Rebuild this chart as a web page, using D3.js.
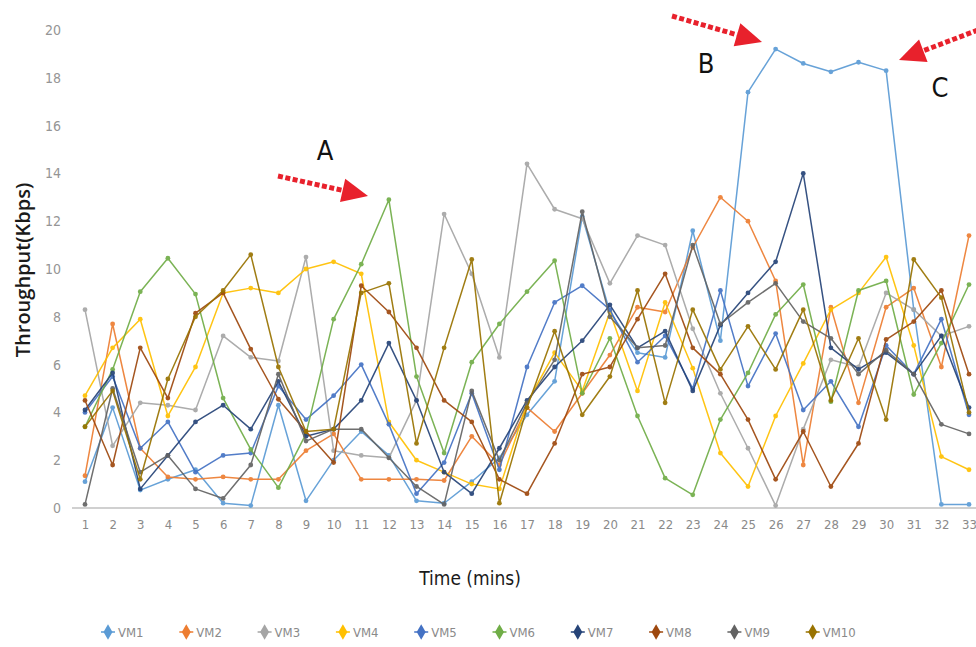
<!DOCTYPE html>
<html><head><meta charset="utf-8">
<script src="https://cdn.jsdelivr.net/npm/d3@7"></script>
<style>html,body{margin:0;padding:0;background:#fff;}svg{display:block;}</style>
</head><body><svg id="c" width="976" height="647"></svg>
<script>
const times = d3.range(1, 34);
const seriesNames = ["VM1","VM2","VM3","VM4","VM5","VM6","VM7","VM8","VM9","VM10"];
const seriesColors = ["#5B9BD5","#ED7D31","#A5A5A5","#FFC000","#4472C4","#70AD47","#264478","#9E480E","#636363","#997300"];
const yTicks = [0,2,4,6,8,10,12,14,16,18,20];

const vm1  = [1.1,4.2,0.75,1.2,1.6,0.2,0.1,4.3,0.3,2.0,3.2,2.2,0.3,0.2,1.1,2.1,3.9,5.3,12.2,8.2,6.5,6.3,11.6,7.0,17.4,19.2,18.6,18.25,18.65,18.3,8.3,0.15,0.15];
const vm2  = [1.35,7.7,2.5,1.3,1.2,1.3,1.2,1.2,2.4,3.1,1.2,1.2,1.2,1.15,3.0,1.8,4.2,3.2,4.8,6.4,8.4,8.2,10.9,13.0,12.0,9.5,1.8,8.4,4.4,8.4,9.2,5.9,11.4];
const vm3  = [8.3,2.6,4.4,4.3,4.1,7.2,6.3,6.15,10.5,2.4,2.2,2.1,4.5,12.3,9.8,6.3,14.4,12.5,12.1,9.4,11.4,11.0,7.5,4.8,2.5,0.1,3.3,6.2,5.9,9.0,8.3,7.2,7.6];
const vm4  = [4.7,6.7,7.9,3.85,5.9,9.0,9.2,9.0,10.0,10.3,9.8,3.6,2.0,1.5,1.0,0.8,4.4,6.5,4.9,8.2,4.9,8.6,5.85,2.3,0.9,3.85,6.05,8.3,9.0,10.5,6.8,2.15,1.6];
const vm5  = [4.0,5.5,2.5,3.6,1.5,2.2,2.3,5.1,3.7,4.7,6.0,3.5,0.6,1.9,4.8,1.6,5.9,8.6,9.3,8.3,6.1,7.2,5.0,9.1,5.1,7.3,4.1,5.3,3.4,6.8,5.6,7.9,3.9];
const vm6  = [3.4,5.8,9.05,10.45,8.95,4.6,2.45,0.85,3.1,7.9,10.2,12.9,5.5,2.3,6.1,7.7,9.05,10.35,4.8,7.1,3.85,1.25,0.55,3.7,5.65,8.1,9.35,4.45,9.1,9.5,4.75,6.9,9.35];
const vm7  = [4.1,5.65,0.8,2.2,3.6,4.3,3.3,5.3,3.0,3.3,4.5,6.9,4.5,1.5,0.6,2.5,4.5,5.9,7.0,8.5,6.7,7.4,4.9,7.65,9.0,10.3,14.0,6.7,5.8,6.5,5.6,7.2,4.2];
const vm8  = [4.5,1.8,6.7,4.6,8.15,9.0,6.65,4.55,3.2,1.9,9.3,8.2,6.7,4.5,3.6,1.2,0.6,2.7,5.6,5.9,7.9,9.8,6.7,5.6,3.7,1.2,3.2,0.9,2.7,7.05,7.8,9.1,5.6];
const vm9  = [0.15,5.0,1.5,2.2,0.8,0.4,1.8,5.6,2.8,3.3,3.3,2.1,0.9,0.15,4.9,2.0,4.4,6.2,12.4,8.0,6.7,6.8,11.0,7.7,8.6,9.4,7.8,7.1,5.6,6.6,5.6,3.5,3.1];
const vm10 = [3.4,4.9,1.2,5.4,8.0,9.1,10.6,5.9,3.2,3.3,9.0,9.4,2.7,6.7,10.4,0.2,4.2,7.4,3.9,5.5,9.1,4.4,8.3,5.8,7.6,5.8,8.3,4.5,7.1,3.7,10.4,8.8,4.0];

const seriesValues = [vm1,vm2,vm3,vm4,vm5,vm6,vm7,vm8,vm9,vm10];

const svg = d3.select("#c");
svg.append("rect").attr("width",976).attr("height",647).attr("fill","#fff");

const x = d3.scalePoint().domain(times).range([85, 969]);
const y = d3.scaleLinear().domain([0, 20]).range([508, 30]);

const tickFont = "'Liberation Sans Narrow','DejaVu Sans Condensed',sans-serif";

// x axis
const xa = svg.append("g").attr("transform","translate(0,508)")
  .call(d3.axisBottom(x).tickSize(0).tickPadding(12));
xa.select(".domain").attr("d","M72,0H976").attr("stroke","#d0d0d0").attr("stroke-width",2);
xa.selectAll("text").attr("font-family",tickFont).attr("font-size",13).attr("fill","#8a8a8a");

// y axis
const ya = svg.append("g").attr("transform","translate(61,0)")
  .call(d3.axisLeft(y).tickValues(yTicks).tickSize(0).tickPadding(0));
ya.select(".domain").remove();
ya.selectAll("text").attr("font-family",tickFont).attr("font-size",14).attr("fill","#959595");

// titles
svg.append("text").attr("transform","translate(30,270) rotate(-90)")
  .attr("text-anchor","middle").attr("font-family","'Open Sans',sans-serif")
  .attr("font-size",20).attr("font-weight",600).attr("fill","#1a1a1a").text("Throughput(Kbps)");
svg.append("text").attr("x",470).attr("y",585).attr("text-anchor","middle")
  .attr("font-family","'DejaVu Sans Condensed','Open Sans',sans-serif")
  .attr("font-size",19).attr("fill","#1a1a1a").text("Time (mins)");

// lines
const line = d3.line().x((d,i)=>x(times[i])).y(d=>y(d));
seriesValues.forEach((vals, k) => {
  const g = svg.append("g").attr("opacity",0.92);
  g.append("path").datum(vals).attr("d", line).attr("fill","none")
    .attr("stroke", seriesColors[k]).attr("stroke-width",1.5).attr("stroke-linejoin","round");
  g.selectAll("circle").data(vals).join("circle")
    .attr("cx",(d,i)=>x(times[i])).attr("cy",d=>y(d)).attr("r",2.4)
    .attr("fill",seriesColors[k]);
});

// legend
const lg = svg.append("g");
seriesNames.forEach((n,k) => {
  const lx = 108 + k*78.3, ly = 632;
  lg.append("line").attr("x1",lx-7).attr("x2",lx+7).attr("y1",ly).attr("y2",ly)
    .attr("stroke",seriesColors[k]).attr("stroke-width",1.5);
  lg.append("path").attr("d", d3.symbol().type(d3.symbolDiamond).size(70)())
    .attr("transform",`translate(${lx},${ly})`).attr("fill",seriesColors[k]);
  lg.append("text").attr("x",lx+10).attr("y",ly+4.5).attr("font-family",tickFont)
    .attr("font-size",13).attr("fill","#8a8a8a").text(n);
});

// annotations
const annFont = "'DejaVu Sans Condensed','Liberation Sans',sans-serif";
const labels = [["A",325,160],["B",706,73],["C",940,97]];
labels.forEach(([t,lx,ly]) => svg.append("text").attr("x",lx).attr("y",ly)
  .attr("text-anchor","middle").attr("font-family",annFont).attr("font-size",27)
  .attr("fill","#111").text(t));

function arrow(x1,y1,x2,y2){
  const ang = Math.atan2(y2-y1,x2-x1);
  const hl = 26, hw = 12;
  const bx = x2 - hl*Math.cos(ang), by = y2 - hl*Math.sin(ang);
  svg.append("line").attr("x1",x1).attr("y1",y1).attr("x2",bx).attr("y2",by)
    .attr("stroke","#e8212c").attr("stroke-width",5).attr("stroke-dasharray","5,2.5");
  const px = -Math.sin(ang)*hw, py = Math.cos(ang)*hw;
  svg.append("path").attr("d",`M${x2},${y2}L${bx+px},${by+py}L${bx-px},${by-py}Z`)
    .attr("fill","#e8212c");
}
arrow(278,176,368,196);
arrow(672,16,762,42);
arrow(978,30,899,60);
</script></body></html>
